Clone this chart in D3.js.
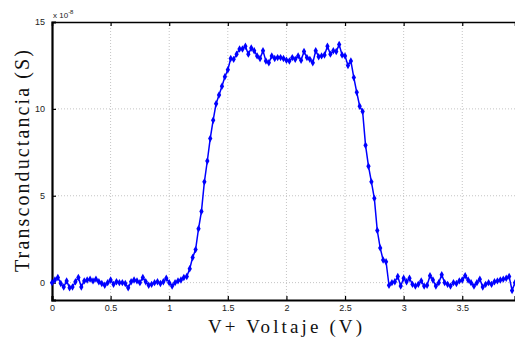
<!DOCTYPE html>
<html>
<head>
<meta charset="utf-8">
<script src="https://cdn.jsdelivr.net/npm/d3@7"></script>
<style>
  body { margin: 0; background: #fff; }
  svg { display: block; }
</style>
</head>
<body>
<div id="chart"></div>
<script>
// sweep: V+ from 0 V, one sample every 25 mV
const vStart = 0;
const vStep = 0.025;

// transconductance, in units of 1e-8 S
const gm = [
    0.0, 0.15, 0.3, -0.05, -0.25, 0.1, -0.3, -0.25, 0.05, 0.3,
    -0.25, 0.1, 0.15, 0.2, 0.1, 0.2, 0.05, -0.05, -0.15, 0.0,
    0.15, -0.1, 0.05, 0.0, 0.0, -0.05, -0.3, 0.05, 0.15, 0.1,
    0.0, 0.3, 0.05, -0.15, -0.1, 0.0, 0.05, -0.05, 0.05, 0.25,
    0.0, -0.2, 0.0, 0.1, 0.15, 0.3, 0.35, 0.8, 1.45, 1.9,
    3.1, 4.1, 5.8, 7.0, 8.3, 9.35, 10.3, 10.8, 11.3, 11.85,
    12.25, 12.9, 12.85, 13.15, 13.45, 13.45, 13.6, 13.15, 13.5, 13.35,
    13.05, 12.9, 13.35, 12.75, 12.65, 13.05, 12.9, 12.95, 12.95, 12.9,
    12.8, 12.75, 12.95, 12.85, 13.05, 12.8, 13.3, 12.95, 12.85, 12.65,
    13.35, 13.0, 13.05, 13.1, 13.6, 13.15, 13.35, 13.3, 13.7, 13.1,
    13.05, 12.5, 12.75, 11.8, 10.95, 10.15, 9.85, 7.9, 6.7, 5.8,
    4.85, 3.0, 2.0, 1.3, 1.2, -0.15, 0.0, 0.05, 0.35, -0.2,
    0.25, 0.05, 0.25, -0.1, -0.2, -0.1, 0.1, -0.2, -0.15, 0.4,
    0.15, -0.2, 0.0, 0.45, 0.0, -0.1, -0.2, 0.0, -0.05, 0.1,
    0.15, 0.4, 0.15, 0.0, -0.2, 0.0, 0.2, -0.25, -0.1, 0.0,
    -0.1, 0.05, 0.1, 0.15, 0.2, 0.25, 0.35, -0.45, 0.0
];

const xTicks = [0, 0.5, 1, 1.5, 2, 2.5, 3, 3.5];
const yTicks = [0, 5, 10, 15];

const xLabel = "V+ Voltaje (V)";
const yLabel = "Transconductancia (S)";
const yExponent = "-8";

const data = gm.map((g, i) => ({ v: vStart + i * vStep, g: g }));

const W = 515, H = 340;
const margin = { top: 22, right: 0, bottom: 40, left: 52 };
const width = W - margin.left - margin.right;
const height = H - margin.top - margin.bottom;

const svg = d3.select("#chart")
    .append("svg")
    .attr("width", W)
    .attr("height", H);

const g = svg.append("g")
    .attr("transform", `translate(${margin.left},${margin.top})`);

const x = d3.scaleLinear()
    .domain([0, 3.95])
    .range([0, width]);

const y = d3.scaleLinear()
    .domain([-1, 15])
    .range([height, 0]);

// grid
g.append("g")
    .selectAll("line")
    .data(xTicks.filter(t => t > 0))
    .join("line")
    .attr("x1", d => x(d)).attr("x2", d => x(d))
    .attr("y1", 0).attr("y2", height)
    .attr("stroke", "#c4c4c4")
    .attr("stroke-width", 1)
    .attr("stroke-dasharray", "1,2");

g.append("g")
    .selectAll("line")
    .data(yTicks.filter(t => t < 15))
    .join("line")
    .attr("x1", 0).attr("x2", width)
    .attr("y1", d => y(d)).attr("y2", d => y(d))
    .attr("stroke", "#c4c4c4")
    .attr("stroke-width", 1)
    .attr("stroke-dasharray", "1,2");

// axes, ticks pointing inward
const xAxis = g.append("g")
    .attr("transform", `translate(0,${height})`)
    .call(d3.axisBottom(x).tickValues(xTicks).tickSize(-4).tickPadding(5).tickFormat(d3.format("")));

const xTop = g.append("g")
    .call(d3.axisTop(x).tickValues(xTicks).tickSize(-4).tickFormat(""));

const yAxis = g.append("g")
    .call(d3.axisLeft(y).tickValues(yTicks).tickSize(-4).tickPadding(7).tickFormat(d3.format("")));

[xAxis, yAxis].forEach(a => {
    a.selectAll("text")
        .style("font-family", "'Liberation Sans', Arial, sans-serif")
        .style("font-size", "9px")
        .attr("fill", "#222");
});
xAxis.select(".domain").attr("stroke-width", 2.2);
yAxis.select(".domain").attr("stroke-width", 2.2);
xTop.select(".domain").attr("stroke-width", 1.6);
xTop.select(".tick line").remove();
g.selectAll(".tick line").attr("stroke-width", 1.2);
yAxis.selectAll(".tick").filter(d => d === 15).select("line").remove();

// exponent
const ex = svg.append("text")
    .attr("x", margin.left + 1)
    .attr("y", margin.top - 4)
    .style("font-family", "'Liberation Sans', Arial, sans-serif")
    .style("font-size", "8px")
    .attr("fill", "#222");
ex.append("tspan").text("x 10");
ex.append("tspan").attr("dy", -4).style("font-size", "6px").text(yExponent);

// series
g.append("path")
    .datum(data)
    .attr("fill", "none")
    .attr("stroke", "#0000ff")
    .attr("stroke-width", 1.5)
    .attr("stroke-linejoin", "round")
    .attr("d", d3.line().x(d => x(d.v)).y(d => y(d.g)));

g.append("g")
    .selectAll("path")
    .data(data)
    .join("path")
    .attr("transform", d => `translate(${x(d.v)},${y(d.g)})`)
    .attr("d", d3.symbol().type(d3.symbolDiamond).size(16))
    .attr("fill", "#0000ff");

// axis titles
svg.append("text")
    .attr("x", 285)
    .attr("y", 333)
    .attr("text-anchor", "middle")
    .attr("textLength", 154)
    .attr("lengthAdjust", "spacing")
    .style("font-family", "'Liberation Serif', serif")
    .style("font-size", "19px")
    .attr("fill", "#111")
    .text(xLabel);

svg.append("text")
    .attr("transform", "translate(29,161) rotate(-90)")
    .attr("text-anchor", "middle")
    .attr("textLength", 222)
    .attr("lengthAdjust", "spacing")
    .style("font-family", "'Liberation Serif', serif")
    .style("font-size", "20px")
    .attr("fill", "#111")
    .text(yLabel);
</script>
</body>
</html>
